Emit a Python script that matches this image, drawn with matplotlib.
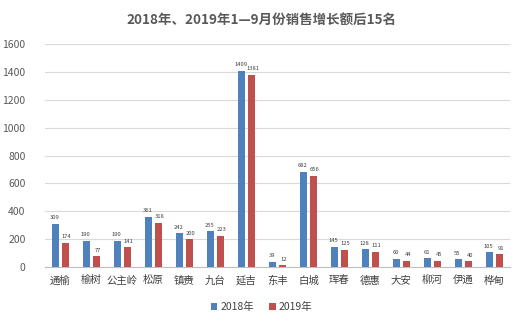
import matplotlib
matplotlib.use("Agg")
import matplotlib.pyplot as plt
import numpy as np

plt.rcParams['font.family'] = ['Noto Sans CJK SC', 'DejaVu Sans']

categories = ["通榆", "榆树", "公主岭", "松原", "镇赉", "九台", "延吉", "东丰",
              "白城", "珲春", "德惠", "大安", "柳河", "伊通", "桦甸"]
values_2018 = [309, 190, 190, 361, 242, 255, 1409, 39, 682, 145, 128, 60, 61, 55, 105]
values_2019 = [174, 77, 141, 318, 200, 223, 1381, 12, 656, 125, 111, 44, 45, 40, 91]
series_names = ["2018年", "2019年"]
yticks = [0, 200, 400, 600, 800, 1000, 1200, 1400, 1600]

fig = plt.figure(figsize=(5.23, 3.26), dpi=100)
ax = fig.add_axes([0.086, 0.181, 0.889, 0.684])

x = np.arange(len(categories))
w = 0.23
off = 0.15
b1 = ax.bar(x - off, values_2018, width=w, color='#4F81BD', label=series_names[0], zorder=3)
b2 = ax.bar(x + off, values_2019, width=w, color='#C0504D', label=series_names[1], zorder=3)

for bars, vals, dx in ((b1, values_2018, -0.04), (b2, values_2019, 0.05)):
    for rect, v in zip(bars, vals):
        ax.text(rect.get_x() + rect.get_width() / 2 + dx, v + 25, str(v),
                ha='center', va='bottom', fontsize=4.2, color='#404040')

ax.set_xlim(-0.5, len(categories) - 0.5)
ax.set_ylim(0, 1600)
ax.set_yticks(yticks)
ax.set_yticklabels([str(t) for t in yticks], fontsize=7.5, color='#595959')
ax.set_xticks(x)
ax.set_xticklabels(categories, fontsize=7.5, color='#404040')
ax.tick_params(axis='both', length=0, pad=6)
ax.tick_params(axis='y', pad=14)
ax.grid(axis='y', color='#D9D9D9', linewidth=0.8, zorder=0)
for s in ['top', 'right', 'left']:
    ax.spines[s].set_visible(False)
ax.spines['bottom'].set_color('#BFBFBF')
ax.spines['bottom'].set_linewidth(0.8)

fig.text(0.5, 0.94, "2018年、2019年1—9月份销售增长额后15名", ha='center', va='center',
         fontsize=9.7, fontweight='bold', color='#595959')

leg = fig.legend(loc='center', bbox_to_anchor=(0.5, 0.058), ncol=2, frameon=False,
                 fontsize=7.5, handlelength=0.6, handleheight=0.6, handletextpad=0.3,
                 columnspacing=1.5)
for t in leg.get_texts():
    t.set_color('#404040')

fig.savefig("out.png", dpi=100)
